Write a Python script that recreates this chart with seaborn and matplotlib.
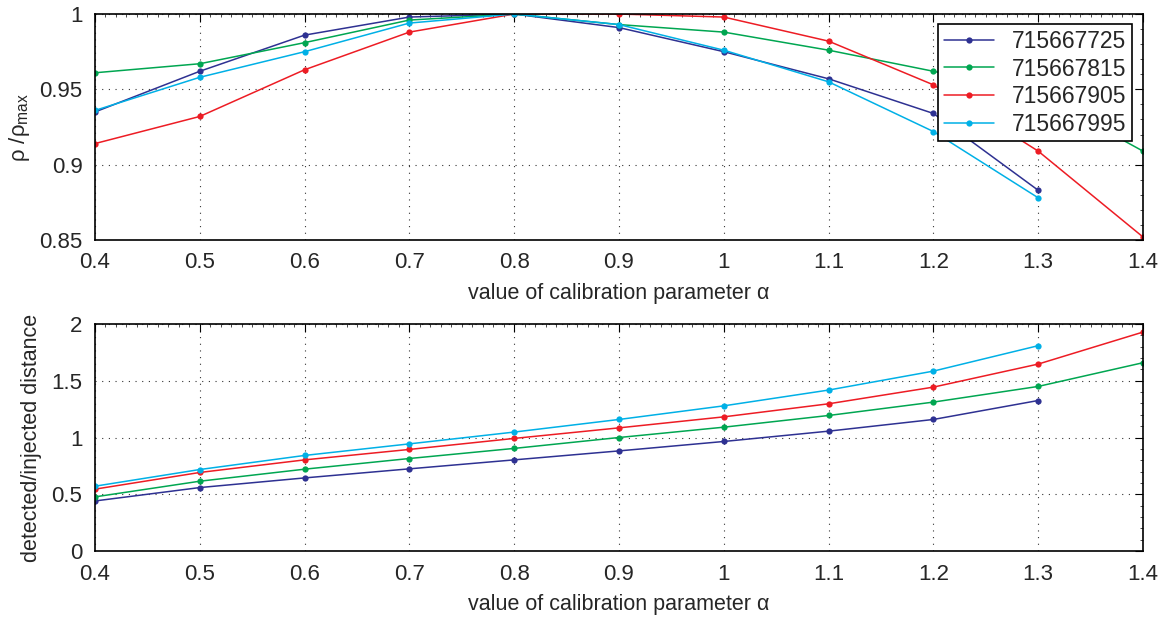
import numpy as np
import pandas as pd
import seaborn as sns
from matplotlib import pyplot as plt
from matplotlib.ticker import FuncFormatter, AutoMinorLocator

# Valores do parametro de calibracao
alpha = [0.4, 0.5, 0.6, 0.7, 0.8, 0.9, 1.0, 1.1, 1.2, 1.3, 1.4]

# Eventos
eventos = ['715667725', '715667815', '715667905', '715667995']

# rho / rho_max (painel de cima)
rho_725 = [0.935, 0.962, 0.986, 0.998, 1.000, 0.991, 0.975, 0.957, 0.934, 0.883]
rho_815 = [0.961, 0.967, 0.981, 0.996, 1.000, 0.993, 0.988, 0.976, 0.962, 0.947, 0.909]
rho_905 = [0.914, 0.932, 0.963, 0.988, 1.000, 1.000, 0.998, 0.982, 0.953, 0.909, 0.852]
rho_995 = [0.936, 0.958, 0.975, 0.994, 1.000, 0.993, 0.976, 0.955, 0.922, 0.878]

# distancia detectada / injetada (painel de baixo)
dist_725 = [0.441, 0.559, 0.644, 0.724, 0.803, 0.882, 0.965, 1.056, 1.159, 1.326]
dist_815 = [0.477, 0.615, 0.721, 0.815, 0.904, 1.000, 1.091, 1.194, 1.312, 1.450, 1.659]
dist_905 = [0.545, 0.692, 0.803, 0.895, 0.992, 1.085, 1.182, 1.297, 1.444, 1.647, 1.929]
dist_995 = [0.571, 0.718, 0.842, 0.944, 1.048, 1.159, 1.279, 1.418, 1.585, 1.809]

cores = ['#2e3192', '#00a651', '#ed1c24', '#00b0e6']
paleta = dict(zip(eventos, cores))


def monta_long(series):
    partes = []
    for nome, vals in zip(eventos, series):
        partes.append(pd.DataFrame({'alpha': alpha[:len(vals)],
                                    'valor': vals,
                                    'evento': nome}))
    return pd.concat(partes, ignore_index=True)


rho_long = monta_long([rho_725, rho_815, rho_905, rho_995])
dist_long = monta_long([dist_725, dist_815, dist_905, dist_995])

# Tema
sns.set_style('white')
plt.rcParams['font.family'] = ['Liberation Sans', 'DejaVu Sans']
plt.rcParams['mathtext.fontset'] = 'custom'
plt.rcParams['mathtext.rm'] = 'Liberation Sans'
plt.rcParams['mathtext.it'] = 'Liberation Sans:italic'

fig = plt.figure(figsize=(11.67, 6.18), dpi=100)
ax1 = fig.add_axes([0.0814, 0.6117, 0.898, 0.3656])
ax2 = fig.add_axes([0.0814, 0.1084, 0.898, 0.3673])

fmt = FuncFormatter(lambda v, p: '%g' % round(v, 2))

for ax, dados in [(ax1, rho_long), (ax2, dist_long)]:
    sns.lineplot(x='alpha', y='valor', hue='evento', data=dados,
                 palette=paleta, marker='o', markersize=4.5,
                 markeredgewidth=0, linewidth=1.1, ax=ax,
                 legend=(ax is ax1))
    ax.set_xlim(0.4, 1.4)
    ax.set_xticks(alpha)
    ax.xaxis.set_major_formatter(fmt)
    ax.yaxis.set_major_formatter(fmt)
    ax.xaxis.set_minor_locator(AutoMinorLocator(10))
    ax.yaxis.set_minor_locator(AutoMinorLocator(5))
    ax.tick_params(which='major', direction='in', length=6, width=0.8,
                   top=True, right=True, labelsize=16, pad=9, color='black')
    ax.tick_params(which='minor', direction='in', length=2, width=0.5,
                   top=True, right=True, color='black')
    ax.grid(True, which='major', linestyle=(0, (1, 5)), color='black',
            linewidth=0.8, alpha=0.8)
    for s in ax.spines.values():
        s.set_visible(True)
        s.set_color('black')
        s.set_linewidth(1.2)
    ax.set_xlabel('value of calibration parameter α', fontsize=15.5, labelpad=7)

ax1.set_ylim(0.85, 1.0)
ax1.set_yticks([0.85, 0.9, 0.95, 1.0])
ax1.set_ylabel(r'ρ /ρ$_{\mathrm{max}}$', fontsize=16, labelpad=5)

ax2.set_ylim(0, 2)
ax2.set_yticks([0, 0.5, 1, 1.5, 2])
ax2.set_ylabel('detected/injected distance', fontsize=15.5, labelpad=7)

leg = ax1.legend(loc='upper right', bbox_to_anchor=(0.99, 0.955),
                 borderaxespad=0, fontsize=16.5, frameon=True, fancybox=False,
                 handlelength=2.2, labelspacing=0.2, borderpad=0.25,
                 handletextpad=0.8)
leg.get_frame().set_edgecolor('black')
leg.get_frame().set_linewidth(1.2)
leg.get_frame().set_alpha(1)

plt.savefig('out.png', dpi=100)
plt.close()
